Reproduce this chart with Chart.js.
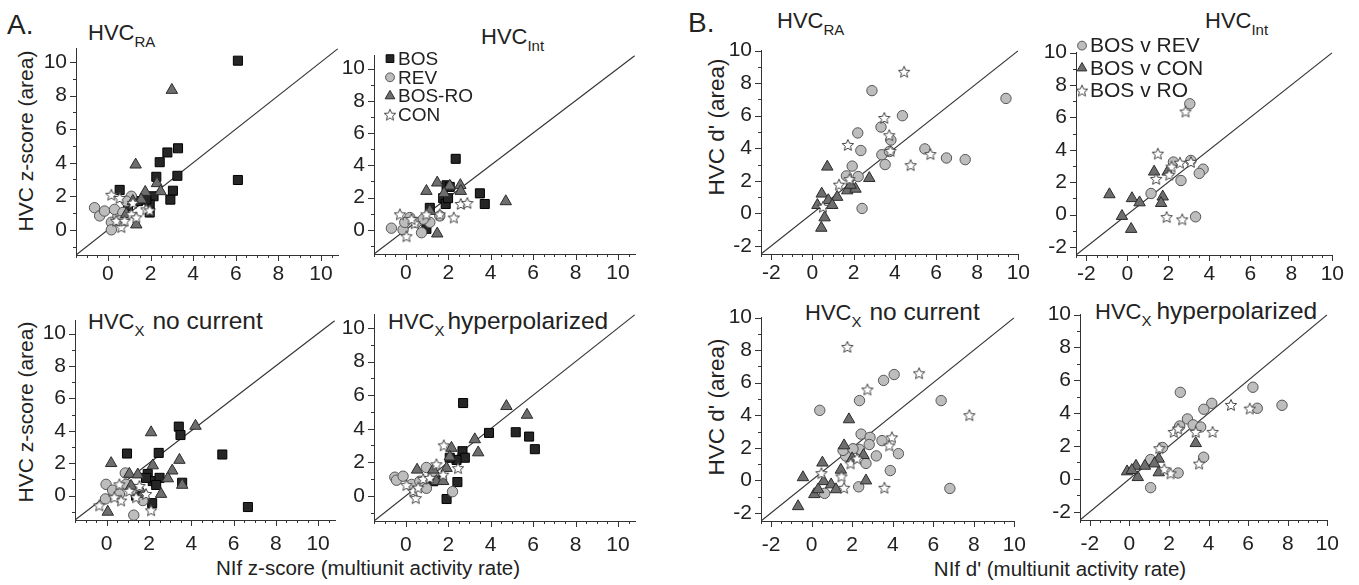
<!DOCTYPE html>
<html><head><meta charset="utf-8">
<script src="https://cdn.jsdelivr.net/npm/chart.js@4.4.0/dist/chart.umd.min.js"></script>
<style>
body{margin:0;background:#fff;width:1359px;height:585px;overflow:hidden;position:relative;font-family:"Liberation Sans",Arial,sans-serif;color:#222}
canvas{position:absolute}
.t{position:absolute;font-size:22px;line-height:1;white-space:nowrap}
.t sub{font-size:15px;vertical-align:-7px;line-height:0}
.t .w{font-size:24.5px}
.yt{position:absolute;font-size:21px;line-height:1;white-space:nowrap;transform:translate(-50%,-50%) rotate(-90deg)}
.yt.b{font-size:22.5px}
.xt{position:absolute;font-size:20.5px;line-height:1;white-space:nowrap;transform:translate(-50%,0)}
.big{position:absolute;font-size:28px;line-height:1}
</style></head><body>
<div class="big" style="left:7px;top:11px">A.</div>
<div class="big" style="left:688px;top:9px">B.</div>
<div class="t" style="left:88px;top:22px">HVC<sub>RA</sub></div>
<div class="t" style="left:481px;top:26px">HVC<sub>Int</sub></div>
<div class="t" style="left:88px;top:309px">HVC<sub>X</sub><span class="w" style="margin-left:8px">no current</span></div>
<div class="t" style="left:388px;top:309px">HVC<sub>X</sub><span class="w" style="margin-left:3px">hyperpolarized</span></div>
<div class="t" style="left:777px;top:10px">HVC<sub>RA</sub></div>
<div class="t" style="left:1205px;top:10px">HVC<sub>Int</sub></div>
<div class="t" style="left:805px;top:300px">HVC<sub>X</sub><span class="w" style="margin-left:8px">no current</span></div>
<div class="t" style="left:1095px;top:299px">HVC<sub>X</sub><span class="w" style="margin-left:5px">hyperpolarized</span></div>
<div class="yt" style="left:25px;top:141px">HVC z-score (area)</div>
<div class="yt" style="left:25px;top:412px">HVC z-score (area)</div>
<div class="yt b" style="left:717px;top:127px">HVC d' (area)</div>
<div class="yt b" style="left:717px;top:407px">HVC d' (area)</div>
<div class="xt" style="left:368px;top:558px">NIf z-score (multiunit activity rate)</div>
<div class="xt" style="left:1060px;top:559px">NIf d' (multiunit activity rate)</div>
<script>
// ---------- tick labels ----------
const aTicks = [0, 2, 4, 6, 8, 10];
const bTicks = [-2, 0, 2, 4, 6, 8, 10];

// ---------- Panel A (z-scores) ----------
// HVC_RA
const aRA_BOS = [[6.10,10.08],[6.10,2.97],[3.29,4.86],[2.79,4.61],[2.43,4.03],[2.27,3.16],[3.26,3.22],[3.05,2.33],[2.93,1.80],[0.55,2.38],[2.14,2.00],[1.96,1.51],[1.96,1.03],[1.41,1.71],[1.80,1.80],[0.94,1.41]];
const aRA_REV = [[-0.63,1.32],[-0.39,0.83],[-0.16,1.12],[0.16,0.45],[0.16,0.00],[0.47,0.83],[1.10,2.00],[0.86,1.71],[0.31,1.22],[0.70,1.03],[0.55,0.54]];
const aRA_RO  = [[3.00,8.33],[1.30,3.88],[2.30,2.77],[2.47,2.29],[1.75,2.25],[1.33,0.31],[1.17,1.71],[1.56,1.80],[0.86,0.93]];
const aRA_CON = [[0.16,2.09],[0.55,1.90],[0.63,0.16],[0.39,0.54],[0.78,0.54],[1.10,0.93],[1.33,0.74],[1.80,1.22],[1.96,1.16],[1.17,1.61]];
// HVC_Int
const aInt_BOS = [[2.35,4.40],[3.49,2.26],[3.72,1.60],[1.13,1.36],[1.92,2.76],[1.76,1.96],[1.88,1.60],[1.99,1.96],[0.97,0.06],[2.07,2.66]];
const aInt_REV = [[-0.68,0.10],[-0.13,0.00],[0.19,0.76],[0.74,-0.18],[1.13,0.46],[-0.05,0.46],[0.50,0.46],[1.60,0.86],[0.82,0.66]];
const aInt_RO  = [[0.97,2.40],[1.48,2.92],[2.07,2.72],[2.57,2.76],[2.59,2.40],[1.80,2.26],[4.71,1.76],[1.48,-0.24],[1.13,1.16]];
const aInt_CON = [[-0.28,0.96],[0.03,-0.40],[2.26,0.76],[2.59,1.60],[2.90,1.66],[1.60,0.96],[0.42,0.40],[0.97,0.96],[0.27,0.66]];
// HVC_X no current
const aXn_BOS = [[0.96,2.60],[2.46,2.64],[3.41,4.26],[3.49,3.74],[3.57,0.80],[5.47,2.54],[6.68,-0.70],[1.94,1.34],[2.18,0.90],[2.50,1.10],[2.15,-0.46],[1.86,1.10],[2.34,0.66],[1.39,0.00]];
const aXn_REV = [[-0.03,0.70],[-0.06,-0.20],[0.88,1.40],[1.28,-1.20],[0.28,0.34],[0.60,0.10],[1.71,-0.30],[0.92,0.70],[1.23,0.40]];
const aXn_RO  = [[2.10,3.90],[4.20,4.30],[3.44,2.20],[3.57,0.66],[3.10,1.54],[2.89,1.06],[2.57,0.10],[2.18,1.86],[0.21,2.00],[1.07,1.34],[1.47,1.30],[0.05,-1.00],[1.71,0.10],[1.15,0.60]];
const aXn_CON = [[-0.35,-0.60],[2.10,-0.90],[0.60,0.70],[1.07,0.30],[1.39,-0.10],[1.86,0.10],[0.68,-0.30],[0.36,-0.10],[1.55,0.60]];
// HVC_X hyperpolarized
const aXh_BOS = [[2.70,5.53],[3.92,3.75],[5.18,3.79],[5.81,3.53],[6.08,2.78],[2.67,2.66],[2.78,2.27],[2.39,2.14],[2.07,2.27],[2.43,0.82],[1.92,-0.19],[1.68,1.07],[1.29,0.87]];
const aXh_REV = [[-0.52,1.11],[-0.44,0.93],[-0.13,1.17],[0.97,1.69],[2.20,0.25],[0.97,0.45],[0.27,0.68],[0.66,0.87],[1.29,1.26]];
const aXh_RO  = [[4.74,5.34],[5.71,4.82],[3.25,3.36],[3.41,2.58],[2.15,2.85],[2.07,2.33],[1.92,1.65],[0.53,1.55],[1.29,1.55],[1.44,0.87],[1.76,0.87]];
const aXh_CON = [[1.79,3.01],[1.44,1.88],[2.46,1.65],[0.47,-0.14],[0.35,0.29],[0.03,0.64],[0.82,1.00],[1.13,1.07],[1.76,1.26],[0.58,0.49]];

// ---------- Panel B (d') ----------
const bRA_REV = [[2.89,7.54],[9.40,7.06],[4.37,6.00],[2.20,4.94],[3.33,5.30],[2.35,3.86],[3.81,4.50],[3.37,3.60],[3.53,3.00],[5.46,3.96],[6.51,3.40],[7.42,3.30],[1.93,2.90],[1.65,2.30],[2.22,2.26],[2.41,0.30],[3.74,3.80]];
const bRA_CON = [[0.72,2.86],[2.76,2.16],[0.45,1.20],[0.24,0.50],[0.77,0.80],[1.20,1.00],[0.59,-0.26],[0.43,-0.90],[1.69,1.40],[2.09,1.50],[1.85,1.74],[0.96,0.50]];
const bRA_RO  = [[4.45,8.70],[3.49,5.86],[3.73,4.80],[3.79,3.84],[1.72,4.20],[4.77,2.96],[5.73,3.64],[1.29,1.76],[1.80,2.10],[0.51,0.40]];
const bInt_REV = [[3.05,6.84],[3.70,2.80],[3.51,2.54],[2.62,2.10],[1.16,1.30],[3.33,-0.14],[2.25,3.24],[3.10,3.34]];
const bInt_CON = [[-0.87,1.24],[-0.26,-0.10],[0.19,-0.90],[0.23,1.00],[0.60,0.74],[1.31,2.64],[1.73,1.10],[1.65,0.70],[1.97,2.64]];
const bInt_RO  = [[2.84,6.36],[1.49,3.76],[1.41,2.20],[1.92,-0.16],[2.68,-0.30],[2.57,3.20],[2.16,2.96],[2.05,2.46],[3.10,3.24]];
const bXn_REV = [[0.40,4.30],[2.36,4.90],[3.55,6.14],[4.07,6.50],[6.39,4.90],[6.82,-0.50],[2.44,2.84],[2.88,2.64],[2.84,2.20],[3.47,2.44],[4.28,1.64],[3.19,1.50],[3.88,0.60],[2.32,-0.40],[2.36,1.90],[2.68,1.04],[1.68,1.50],[1.55,1.84],[0.64,-0.80],[2.04,1.94]];
const bXn_CON = [[1.84,3.74],[-0.43,0.18],[-0.67,-1.60],[0.53,1.08],[0.13,-0.86],[1.60,2.14],[2.68,-0.02],[1.44,0.64],[0.59,-0.06],[0.96,-0.26],[1.20,-0.56],[0.32,-0.56],[2.00,1.34],[2.56,1.54]];
const bXn_RO  = [[1.76,8.20],[5.30,6.58],[2.75,5.58],[7.78,4.00],[3.96,2.64],[3.83,2.14],[3.59,-0.46],[1.60,-0.46],[1.47,0.24],[1.92,1.04],[2.24,1.34],[0.48,0.44]];
const bXh_REV = [[2.57,5.27],[6.24,5.58],[6.46,4.30],[7.71,4.48],[4.16,4.60],[3.76,4.24],[2.93,3.65],[3.22,3.29],[3.60,3.16],[3.75,1.32],[2.46,0.36],[1.07,-0.53],[2.54,3.22],[1.67,1.91],[1.07,1.18]];
const bXh_CON = [[3.35,2.17],[0.33,0.79],[-0.12,0.45],[0.42,0.10],[1.48,1.22],[1.48,0.39],[0.78,0.79],[1.26,0.93],[0.12,0.53]];
const bXh_RO  = [[5.13,4.50],[6.08,4.28],[4.20,2.86],[3.35,2.86],[2.24,2.86],[3.52,0.93],[2.08,0.34],[1.76,0.59],[2.46,3.06],[1.51,1.87]];

// ---------- styles ----------
function starImg(size, fill, stroke){
  const c=document.createElement('canvas'); c.width=c.height=size;
  const g=c.getContext('2d'); const cx=size/2, cy=size/2+0.5; const R=size/2-1, r=R*0.46;
  g.beginPath();
  for(let i=0;i<10;i++){const a=-Math.PI/2+i*Math.PI/5; const rr=i%2?r:R; g.lineTo(cx+rr*Math.cos(a), cy+rr*Math.sin(a));}
  g.closePath(); g.fillStyle=fill; g.fill(); g.strokeStyle=stroke; g.lineWidth=1; g.stroke();
  return c;
}
const STAR = starImg(14,'#ffffff','#444');
const ST = {
  square:{pointStyle:'rect', pointRadius:6.4, backgroundColor:'#262626', borderColor:'#000000'},
  circle:{pointStyle:'circle', pointRadius:5.2, backgroundColor:'#bdbdbd', borderColor:'#555555'},
  tri:{pointStyle:'triangle', pointRadius:6.6, backgroundColor:'#6e6e6e', borderColor:'#2b2b2b'},
  star:{pointStyle:STAR, pointRadius:6, backgroundColor:'#ffffff', borderColor:'#444444'}
};
const ORDER = {square:4, circle:3, tri:2, star:1};

const A = {min:-1.5, max:10.8, ticks:aTicks};
const B = {min:-2.5, max:10, ticks:bTicks};
const panels = [
  {r:A, x0:108, x10:321, y0:229, y10:57, pad:7, series:[['BOS','square',aRA_BOS],['REV','circle',aRA_REV],['BOS-RO','tri',aRA_RO],['CON','star',aRA_CON]]},
  {r:A, x0:406, x10:618, y0:229, y10:63, pad:7, legend:{show:true,dx:16,tx:24,dy:3,step:18.7,size:19,scale:0.85}, series:[['BOS','square',aInt_BOS],['REV','circle',aInt_REV],['BOS-RO','tri',aInt_RO],['CON','star',aInt_CON]]},
  {r:A, x0:107, x10:318, y0:495, y10:328, pad:12, series:[['BOS','square',aXn_BOS],['REV','circle',aXn_REV],['BOS-RO','tri',aXn_RO],['CON','star',aXn_CON]]},
  {r:A, x0:406, x10:618, y0:495, y10:323, pad:12, series:[['BOS','square',aXh_BOS],['REV','circle',aXh_REV],['BOS-RO','tri',aXh_RO],['CON','star',aXh_CON]]},
  {r:B, x0:813, x10:1020.5, y0:212, y10:45, pad:7, series:[['BOS v REV','circle',bRA_REV],['BOS v CON','tri',bRA_CON],['BOS v RO','star',bRA_RO]]},
  {r:B, x0:1128, x10:1335, y0:213, y10:47, pad:7, legend:{show:true,dx:6,tx:14,dy:-7,step:22.5,size:21,scale:0.85}, series:[['BOS v REV','circle',bInt_REV],['BOS v CON','tri',bInt_CON],['BOS v RO','star',bInt_RO]]},
  {r:B, x0:813, x10:1021.5, y0:479, y10:312, pad:12, series:[['BOS v REV','circle',bXn_REV],['BOS v CON','tri',bXn_CON],['BOS v RO','star',bXn_RO]]},
  {r:B, x0:1131, x10:1335, y0:478, y10:309, pad:12, series:[['BOS v REV','circle',bXh_REV],['BOS v CON','tri',bXh_CON],['BOS v RO','star',bXh_RO]]}
];

const FONT = '"Liberation Sans", Arial, sans-serif';
const PL=40, PR=16, PT=16, PB=40;

const tickMarks = {id:'tickMarks', afterDraw(chart){
  const {ctx, chartArea:a, scales:{x,y}} = chart;
  ctx.save(); ctx.strokeStyle='#333'; ctx.lineWidth=1; ctx.beginPath();
  for(let v=Math.ceil(x.min*2)/2; v<=x.max+1e-9; v+=0.5){
    const px=Math.round(x.getPixelForValue(v))+0.5; const major=Math.abs(v%2)<1e-9;
    ctx.moveTo(px,a.bottom); ctx.lineTo(px,a.bottom+(major?6:3));
  }
  for(let v=Math.ceil(y.min); v<=y.max+1e-9; v+=1){
    const py=Math.round(y.getPixelForValue(v))+0.5; const major=Math.abs(v%2)<1e-9;
    ctx.moveTo(a.left,py); ctx.lineTo(a.left-(major?6:3),py);
  }
  ctx.stroke(); ctx.restore();
}};

const insetLegend = {id:'insetLegend', afterDraw(chart, args, o){
  if(!o || !o.show) return;
  const {ctx, chartArea:a} = chart;
  ctx.save();
  ctx.font = o.size+'px '+FONT; ctx.textBaseline='middle'; ctx.textAlign='left';
  let i=0;
  chart.data.datasets.forEach(ds=>{
    if(!ds.label) return;
    const cx=a.left+o.dx, cy=a.top+o.dy+i*o.step;
    ctx.fillStyle=ds.backgroundColor; ctx.strokeStyle=ds.borderColor; ctx.lineWidth=1;
    const opts={pointStyle:ds.pointStyle, radius:ds.pointRadius*o.scale, rotation:0, borderWidth:1};
    if(Chart.helpers && Chart.helpers.drawPoint){ Chart.helpers.drawPoint(ctx, opts, cx, cy); }
    ctx.fillStyle='#222'; ctx.fillText(ds.label, a.left+o.tx, cy+1);
    i++;
  });
  ctx.restore();
}};

function axis(r, pad, isX){
  return {
    type:'linear', min:r.min, max:r.max,
    afterBuildTicks: s => { s.ticks = r.ticks.map(v=>({value:v})); },
    afterFit: s => { if(isX) s.height=PB; else s.width=PL; },
    grid:{display:false, drawTicks:false},
    border:{display:true, color:'#333', width:1},
    ticks:{autoSkip:false, maxRotation:0, minRotation:0, padding:isX?pad:9, color:'#222',
      font:{family:FONT, size:21}, callback:v=>String(v)}
  };
}

panels.forEach(p=>{
  const r=p.r;
  const ux=(p.x10-p.x0)/10, uy=(p.y0-p.y10)/10;
  const L=Math.round(p.x0+r.min*ux), R=Math.round(p.x0+r.max*ux);
  const T=Math.round(p.y0-r.max*uy), Bt=Math.round(p.y0-r.min*uy);
  const cv=document.createElement('canvas');
  cv.width=R-L+PL+PR; cv.height=Bt-T+PT+PB;
  cv.style.left=(L-PL)+'px'; cv.style.top=(T-PT)+'px';
  document.body.appendChild(cv);
  const datasets=[{type:'line', data:[{x:r.min,y:r.min},{x:r.max,y:r.max}], borderColor:'#333', borderWidth:1.2, pointRadius:0, fill:false, order:10}];
  p.series.forEach(([label, key, arr])=>{
    datasets.push(Object.assign({label, data:arr.map(([x,y])=>({x,y})), borderWidth:1, order:ORDER[key]}, ST[key]));
  });
  new Chart(cv, {
    type:'scatter',
    data:{datasets},
    options:{
      responsive:false, animation:false, devicePixelRatio:1,
      layout:{padding:{top:PT,right:PR,left:0,bottom:0}},
      plugins:{legend:{display:false}, tooltip:{enabled:false}, insetLegend:p.legend||{show:false}},
      scales:{x:axis(r,p.pad,true), y:axis(r,p.pad,false)}
    },
    plugins:[tickMarks, insetLegend]
  });
});
</script>
</body></html>
